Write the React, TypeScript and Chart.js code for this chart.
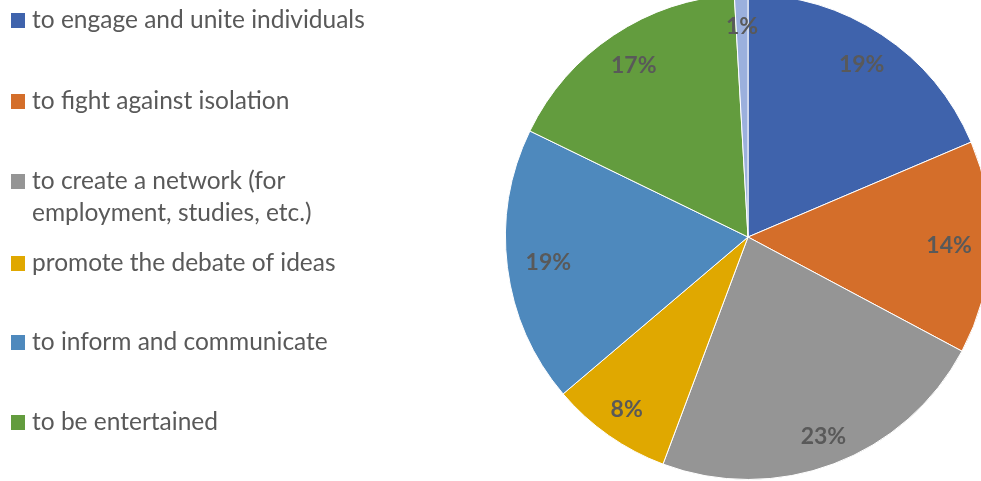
import React, { useEffect, useRef } from "react";
import { Chart, registerables } from "chart.js";

Chart.register(...registerables);

const categories: string[][] = [
  ["to engage and unite individuals"],
  ["to fight against isolation"],
  ["to create a network (for", "employment, studies, etc.)"],
  ["promote the debate of ideas"],
  ["to inform and communicate"],
  ["to be entertained"],
  ["other"],
];
const shares: number[] = [18.6, 14.2, 22.9, 8.1, 18.4, 16.9, 0.9];
const percentLabels: string[] = ["19%", "14%", "23%", "8%", "19%", "17%", "1%"];
const legendShown: boolean[] = [true, true, true, true, true, true, false];

const COLORS = ["#3F63AC", "#D46E2A", "#959595", "#E0A800", "#4E89BD", "#639C3E", "#9BB0DD"];
const LABEL_R = [0.85, 0.83, 0.88, 0.87, 0.83, 0.85, 0.87];
const LEGEND_Y = [20, 101, 181, 263, 342, 422, 0];
const FONT = "Lato, 'Open Sans', sans-serif";
const OFFSET_Y = 10;

const overlay = {
  id: "overlay",
  afterDatasetsDraw(chart: any) {
    const ctx = chart.ctx;
    const meta = chart.getDatasetMeta(0);
    ctx.save();
    ctx.fillStyle = "#595959";
    ctx.font = `bold 23px ${FONT}`;
    ctx.textAlign = "center";
    ctx.textBaseline = "middle";
    meta.data.forEach((arc: any, i: number) => {
      const p = arc.getProps(["x", "y", "startAngle", "endAngle", "outerRadius"], true);
      const mid = (p.startAngle + p.endAngle) / 2;
      const r = p.outerRadius * LABEL_R[i];
      ctx.fillText(percentLabels[i], p.x + Math.cos(mid) * r, p.y + Math.sin(mid) * r);
    });
    // legend
    ctx.font = `24.5px ${FONT}`;
    ctx.textAlign = "left";
    categories.forEach((lines, i) => {
      if (!legendShown[i]) return;
      const y = LEGEND_Y[i] + OFFSET_Y;
      ctx.fillStyle = COLORS[i];
      ctx.fillRect(11, y - 7, 14, 15);
      ctx.fillStyle = "#595959";
      lines.forEach((t, j) => ctx.fillText(t, 32, y + j * 32));
    });
    ctx.restore();
  },
};

export default function App() {
  const ref = useRef<HTMLCanvasElement>(null);
  useEffect(() => {
    document.body.style.margin = "0";
    const chart = new Chart(ref.current!, {
      type: "pie",
      data: {
        labels: categories.map((c) => c.join(" ")),
        datasets: [
          {
            data: shares,
            backgroundColor: COLORS,
            borderColor: "#FFFFFF",
            borderWidth: 1,
          },
        ],
      },
      options: {
        responsive: false,
        animation: false,
        layout: { padding: { left: 505, right: 1010 - 991, top: OFFSET_Y - 6, bottom: 500 - (480 + OFFSET_Y) } },
        plugins: { legend: { display: false }, tooltip: { enabled: false } },
      },
      plugins: [overlay],
    });
    return () => chart.destroy();
  }, []);
  return (
    <div style={{ position: "fixed", left: 0, top: 0, width: 981, height: 481, overflow: "hidden", background: "#fff" }}>
      <canvas ref={ref} width={1010} height={500} style={{ position: "absolute", left: 0, top: -OFFSET_Y, width: 1010, height: 500 }} />
    </div>
  );
}
